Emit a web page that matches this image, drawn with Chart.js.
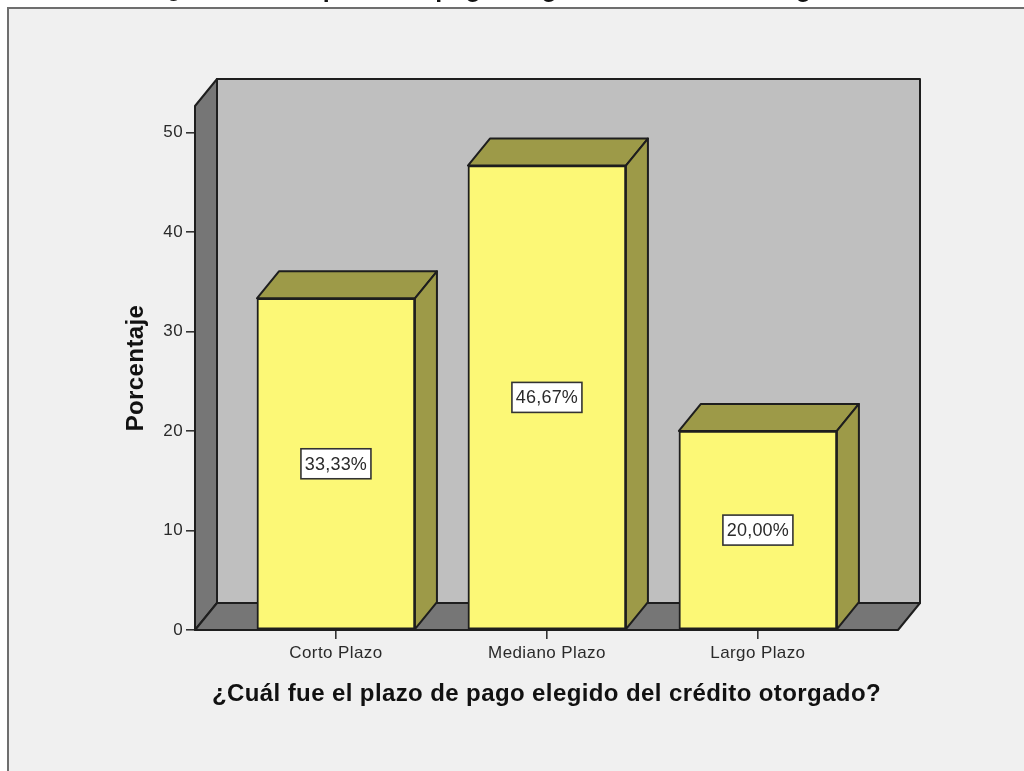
<!DOCTYPE html>
<html><head><meta charset="utf-8">
<style>html,body{margin:0;padding:0;background:#fff;overflow:hidden}#w{position:absolute;left:0;top:0;width:1024px;height:771px}canvas{filter:blur(0.4px)}</style>
<script src="https://cdn.jsdelivr.net/npm/chart.js@4"></script></head>
<body><div id="w"><canvas id="c" width="1024" height="771"></canvas></div>
<script>
const categories = ["Corto Plazo", "Mediano Plazo", "Largo Plazo"];
const percentages = [33.33, 46.67, 20.00];
const barLabels = ["33,33%", "46,67%", "20,00%"];
const yTicks = [0, 10, 20, 30, 40, 50];
const chartTitle = "¿Cuál fue el plazo de pago elegido del crédito otorgado?";
const xTitle = "¿Cuál fue el plazo de pago elegido del crédito otorgado?";
const yTitle = "Porcentaje";

const DX = 22, DY = -27;
const C = {panel:'#f0f0f0', frame:'#6e6e6e', back:'#bfbfbf', wall:'#767676', bar:'#fcf876', barTop:'#9d9a48', line:'#1e1e1e', text:'#2a2a2a'};
const FONT = '"Liberation Sans", Arial, sans-serif';

function poly(ctx, pts, fill, lw){
  ctx.beginPath();
  pts.forEach((p,i)=> i?ctx.lineTo(p[0],p[1]):ctx.moveTo(p[0],p[1]));
  ctx.closePath();
  ctx.fillStyle = fill; ctx.fill();
  ctx.lineWidth = lw||2; ctx.strokeStyle = C.line; ctx.lineJoin='round'; ctx.stroke();
}

const scene = {
  id:'scene',
  beforeDraw(chart){
    const {ctx,width,height} = chart;
    ctx.save();
    ctx.fillStyle='#fff'; ctx.fillRect(0,0,width,height);
    ctx.fillStyle=C.panel; ctx.fillRect(8,8,width-8,height-8);
    ctx.fillStyle=C.frame; ctx.fillRect(7,7,width-7,2); ctx.fillRect(7,7,2,height-7);
    ctx.fillStyle='#111'; ctx.font='bold 25px '+FONT; ctx.textAlign='center'; ctx.textBaseline='alphabetic';
    ctx.letterSpacing='0.6px';
    ctx.fillText(chartTitle, 520, -3);
    ctx.restore();
    ctx.letterSpacing='0.4px';
  },
  beforeDatasetsDraw(chart){
    const {ctx,chartArea:a} = chart;
    ctx.save();
    poly(ctx,[[a.left+DX,a.top+DY],[a.right+DX,a.top+DY],[a.right+DX,a.bottom+DY],[a.left+DX,a.bottom+DY]],C.back);
    poly(ctx,[[a.left,a.top],[a.left+DX,a.top+DY],[a.left+DX,a.bottom+DY],[a.left,a.bottom]],C.wall);
    poly(ctx,[[a.left,a.bottom],[a.left+DX,a.bottom+DY],[a.right+DX,a.bottom+DY],[a.right,a.bottom]],C.wall);
    chart.getDatasetMeta(0).data.forEach(b=>{
      const l=b.x-b.width/2, r=b.x+b.width/2;
      poly(ctx,[[l,b.y],[l+DX,b.y+DY],[r+DX,b.y+DY],[r,b.y]],C.barTop);
      poly(ctx,[[r,b.y],[r+DX,b.y+DY],[r+DX,b.base+DY],[r,b.base]],C.barTop);
    });
    ctx.restore();
  },
  afterDatasetsDraw(chart){
    const {ctx,chartArea:a} = chart;
    ctx.save();
    ctx.strokeStyle=C.line; ctx.lineWidth=2;
    ctx.beginPath(); ctx.moveTo(a.left,a.bottom); ctx.lineTo(a.right,a.bottom); ctx.stroke();
    ctx.font='18px '+FONT; ctx.textAlign='center'; ctx.textBaseline='middle';
    ctx.letterSpacing='0.2px';
    chart.getDatasetMeta(0).data.forEach((b,i)=>{
      const cy=(b.y+b.base)/2, w=70, h=30;
      ctx.fillStyle='#fff'; ctx.fillRect(b.x-w/2,cy-h/2,w,h);
      ctx.strokeStyle='#333'; ctx.lineWidth=1.6; ctx.strokeRect(b.x-w/2,cy-h/2,w,h);
      ctx.fillStyle=C.text; ctx.fillText(barLabels[i],b.x,cy+1);
    });
    ctx.restore();
  }
};

new Chart(document.getElementById('c'),{
  type:'bar',
  data:{datasets:[{
    data:percentages.map((v,i)=>({x:i,y:v})),
    backgroundColor:C.bar, borderColor:C.line, borderWidth:2, borderSkipped:false,
    barThickness:158
  }]},
  plugins:[scene],
  options:{
    responsive:false, animation:false, events:[],
    layout:{padding:{left:100,right:126,top:106,bottom:62}},
    plugins:{legend:{display:false},tooltip:{enabled:false},title:{display:false}},
    scales:{
      x:{type:'linear',offset:false,min:-0.668,max:2.664,
        afterBuildTicks(s){s.ticks=categories.map((_,i)=>({value:i}));},
        afterFit(s){s.height=79;},
        grid:{offset:false,drawOnChartArea:false,drawTicks:true,tickLength:9,tickColor:'#333',lineWidth:1.6},
        border:{display:false},
        ticks:{autoSkip:false,maxRotation:0,padding:4,color:C.text,font:{family:FONT,size:17},callback:v=>categories[v]},
        title:{display:true,text:xTitle,color:'#111',font:{family:FONT,size:24,weight:'bold'},padding:{top:0,bottom:0}}
      },
      y:{min:0,max:52.66,
        afterBuildTicks(s){s.ticks=yTicks.map(v=>({value:v}));},
        afterFit(s){s.width=95;},
        grid:{drawOnChartArea:false,drawTicks:true,tickLength:9,tickColor:'#333',lineWidth:1.6},
        border:{display:false},
        ticks:{padding:3,color:C.text,font:{family:FONT,size:17}},
        title:{display:true,text:yTitle,color:'#111',font:{family:FONT,size:24,weight:'bold'},padding:{top:21.6,bottom:0}}
      }
    }
  }
});
</script></body></html>
